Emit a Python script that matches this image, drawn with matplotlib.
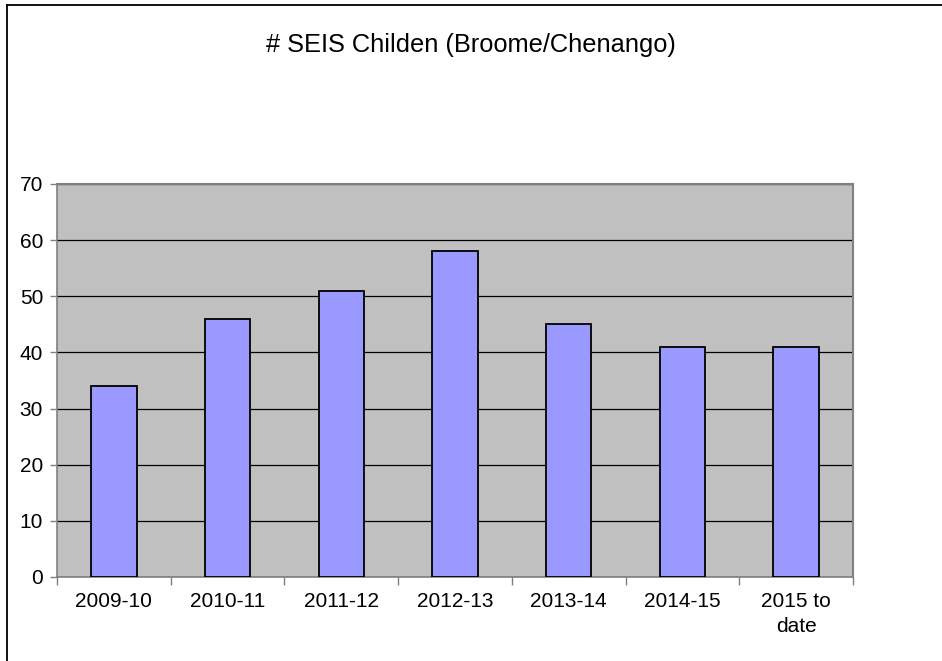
import matplotlib.pyplot as plt
from matplotlib.lines import Line2D
import numpy as np

# data
categories = ['2009-10', '2010-11', '2011-12', '2012-13', '2013-14', '2014-15', '2015 to\ndate']
children = [34, 46, 51, 58, 45, 41, 41]
y_ticks = [0, 10, 20, 30, 40, 50, 60, 70]

plt.rcParams['font.family'] = ['Liberation Sans', 'DejaVu Sans']

fig = plt.figure(figsize=(9.42, 6.61), dpi=100)
ax = fig.add_axes([57 / 942, 1 - 577 / 661, 796 / 942, 393 / 661])

x = np.arange(len(categories))
ax.set_facecolor('#C0C0C0')
ax.bar(x, children, width=0.4, color='#9999FF', edgecolor='black', linewidth=1.3, zorder=3)

ax.set_xlim(-0.5, len(categories) - 0.5)
ax.set_ylim(0, 70)
ax.set_yticks(y_ticks)
ax.set_yticklabels([str(v) for v in y_ticks], fontsize=15)
ax.yaxis.grid(True, color='black', linewidth=0.9, zorder=1)
ax.set_axisbelow(True)

# category labels in the middle, ticks on the boundaries
ax.set_xticks(x)
ax.set_xticklabels(categories, fontsize=15, linespacing=1.35)
ax.tick_params(axis='x', which='major', length=0, pad=11)
ax.set_xticks(np.arange(-0.5, len(categories)), minor=True)
ax.tick_params(axis='x', which='minor', length=6, width=1, color='#808080')
ax.tick_params(axis='y', length=5, width=1, color='#808080', pad=5)

for side in ['top', 'right']:
    ax.spines[side].set_color('#808080')
    ax.spines[side].set_linewidth(1.5)
for side in ['left', 'bottom']:
    ax.spines[side].set_color('#808080')
    ax.spines[side].set_linewidth(1.2)

fig.text(0.5, 1 - 45 / 661, '# SEIS Childen (Broome/Chenango)', fontsize=18.3,
         ha='center', va='center')

# outer chart border (only top and left visible in the picture)
fig.add_artist(Line2D([7 / 942, 1], [1 - 5 / 661, 1 - 5 / 661], color='black', linewidth=1.3))
fig.add_artist(Line2D([7 / 942, 7 / 942], [0, 1 - 5 / 661], color='black', linewidth=1.3))

fig.savefig('out.png', dpi=100, facecolor='white')
